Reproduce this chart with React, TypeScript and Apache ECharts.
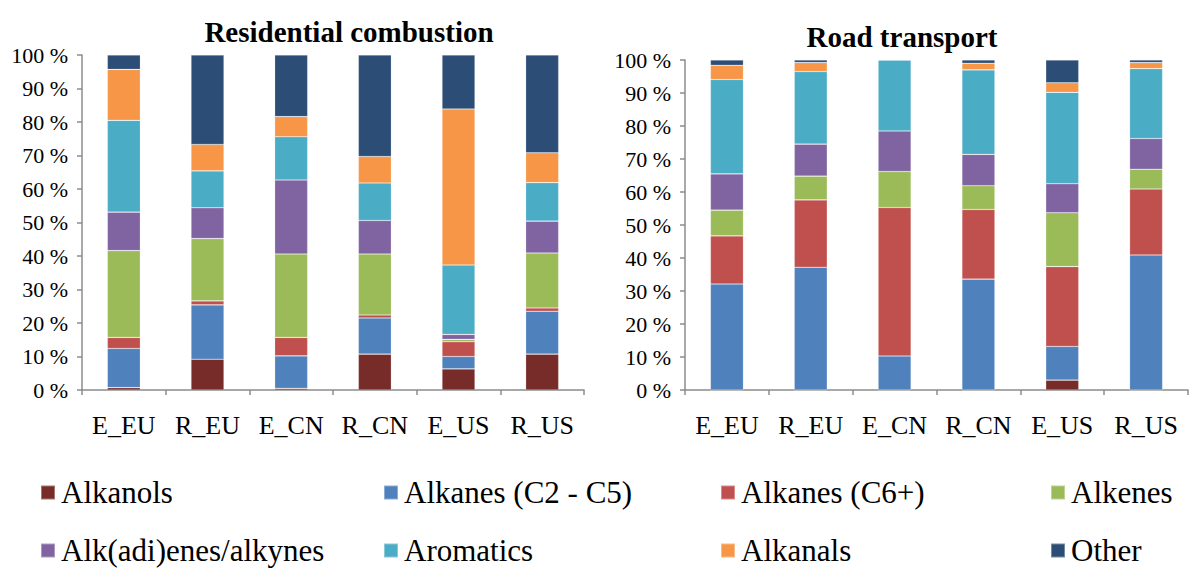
import React, { useEffect, useRef } from "react";
import * as echarts from "echarts";

const categories = ["E_EU", "R_EU", "E_CN", "R_CN", "E_US", "R_US"];
const groups = [
  "Alkanols",
  "Alkanes (C2 - C5)",
  "Alkanes (C6+)",
  "Alkenes",
  "Alk(adi)enes/alkynes",
  "Aromatics",
  "Alkanals",
  "Other",
];
const colors = ["#772C2A", "#4F81BD", "#C0504D", "#9BBB59", "#8064A2", "#4BACC6", "#F79646", "#2C4D75"];

// Residential combustion (% per category, by group)
const resAlkanols = [0.7, 9.2, 0.5, 10.7, 6.3, 10.7];
const resAlkanesC2C5 = [11.7, 16.2, 9.7, 10.8, 3.7, 12.8];
const resAlkanesC6 = [3.3, 1.2, 5.5, 0.9, 4.4, 1.0];
const resAlkenes = [25.9, 18.6, 24.9, 18.2, 0.7, 16.4];
const resAlkadienes = [11.5, 9.2, 22.1, 10.0, 1.5, 9.5];
const resAromatics = [27.4, 11.0, 12.9, 11.2, 20.7, 11.5];
const resAlkanals = [15.2, 7.9, 6.0, 7.9, 46.6, 8.9];
const resOther = [4.3, 26.7, 18.4, 30.3, 16.1, 29.2];

// Road transport
const roadAlkanols = [0, 0, 0, 0, 3.0, 0];
const roadAlkanesC2C5 = [32.1, 37.2, 10.3, 33.6, 10.2, 40.9];
const roadAlkanesC6 = [14.6, 20.4, 45.0, 21.1, 24.2, 20.0];
const roadAlkenes = [7.8, 7.2, 10.9, 7.2, 16.3, 6.0];
const roadAlkadienes = [11.0, 9.7, 12.3, 9.5, 8.8, 9.3];
const roadAromatics = [28.6, 22.0, 21.5, 25.6, 27.7, 21.2];
const roadAlkanals = [4.3, 2.7, 0, 2.0, 2.9, 1.8];
const roadOther = [1.6, 0.8, 0, 1.0, 6.9, 0.8];

const yTicks = { min: 0, max: 100, interval: 10 };

const resData = [resAlkanols, resAlkanesC2C5, resAlkanesC6, resAlkenes, resAlkadienes, resAromatics, resAlkanals, resOther];
const roadData = [roadAlkanols, roadAlkanesC2C5, roadAlkanesC6, roadAlkenes, roadAlkadienes, roadAromatics, roadAlkanals, roadOther];

const FONT = "Liberation Serif, Times New Roman, serif";

export default function App() {
  const ref = useRef<HTMLDivElement>(null);
  useEffect(() => {
    if (!ref.current) return;
    const chart = echarts.init(ref.current, null, { renderer: "svg" });
    const axisLine = { show: true, lineStyle: { color: "#8c8c8c", width: 1.5 } };
    const xAxis = (gi: number) => ({
      type: "category",
      gridIndex: gi,
      data: categories,
      axisLine,
      axisTick: { show: true, length: 5, lineStyle: { color: "#8c8c8c", width: 1.5 } },
      axisLabel: { color: "#000", fontFamily: FONT, fontSize: 26, margin: 22, interval: 0 },
    });
    const yAxis = (gi: number) => ({
      type: "value",
      gridIndex: gi,
      ...yTicks,
      splitLine: { show: false },
      axisLine,
      axisTick: { show: true, length: 5, lineStyle: { color: "#8c8c8c", width: 1.5 } },
      axisLabel: { color: "#000", fontFamily: FONT, fontSize: 22, margin: 14, formatter: "{value} %" },
    });
    const series: any[] = [];
    groups.forEach((g, i) => {
      series.push({
        name: g,
        type: "bar",
        stack: "res",
        xAxisIndex: 0,
        yAxisIndex: 0,
        barWidth: 33,
        data: resData[i],
        itemStyle: { color: colors[i], borderColor: "rgba(255,255,255,0.35)", borderWidth: 0.6 },
      });
      series.push({
        name: g,
        type: "bar",
        stack: "road",
        xAxisIndex: 1,
        yAxisIndex: 1,
        barWidth: 33,
        data: roadData[i],
        itemStyle: { color: colors[i], borderColor: "rgba(255,255,255,0.35)", borderWidth: 0.6 },
      });
    });
    const colX = [40, 383, 720, 1050];
    const rowY = [491, 549];
    const legendOrder = [
      [groups[0], groups[1], groups[2], groups[3]],
      [groups[4], groups[5], groups[6], groups[7]],
    ];
    const legends: any[] = [];
    legendOrder.forEach((row, r) =>
      row.forEach((name, c) =>
        legends.push({
          left: colX[c],
          top: rowY[r] - 14,
          padding: 0,
          data: [name],
          icon: "rect",
          itemWidth: 14,
          itemHeight: 14,
          selectedMode: false,
          textStyle: { fontFamily: FONT, fontSize: 31, color: "#000", lineHeight: 28, padding: [0, 0, 0, 1] },
        })
      )
    );
    chart.setOption({
      animation: false,
      backgroundColor: "#fff",
      title: [
        {
          text: "Residential combustion",
          left: 344,
          top: 12,
          textAlign: "center",
          textStyle: { fontFamily: FONT, fontSize: 29, fontWeight: "bold", color: "#000" },
        },
        {
          text: "Road transport",
          left: 897,
          top: 17,
          textAlign: "center",
          textStyle: { fontFamily: FONT, fontSize: 29, fontWeight: "bold", color: "#000" },
        },
      ],
      legend: legends,
      grid: [
        { left: 82, right: 616, top: 55, bottom: 179 },
        { left: 685, right: 12, top: 60, bottom: 179 },
      ],
      xAxis: [xAxis(0), xAxis(1)],
      yAxis: [yAxis(0), yAxis(1)],
      series,
    });
    return () => chart.dispose();
  }, []);
  return <div ref={ref} style={{ position: "absolute", left: 0, top: 0, width: 1200, height: 569 }} />;
}
